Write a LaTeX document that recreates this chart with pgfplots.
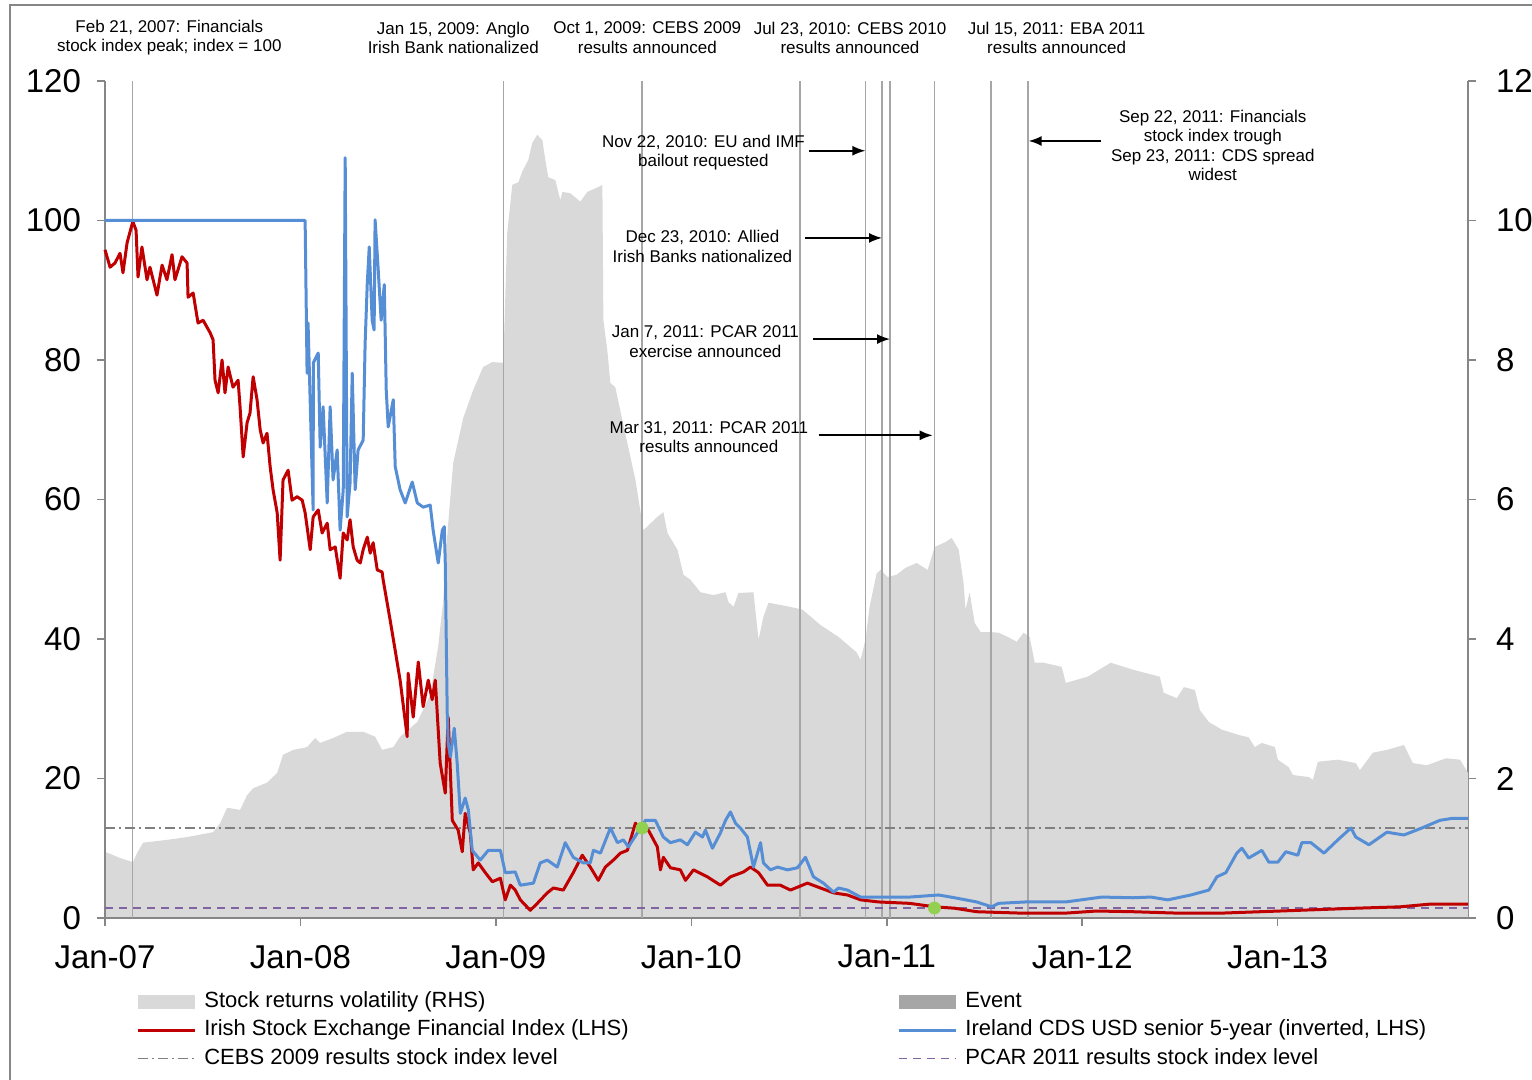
\documentclass[border=0pt]{standalone}
\usepackage{pgfplots}
\pgfplotsset{compat=1.18}
\usepackage{fontspec}
\setmainfont{Liberation Sans}
\usetikzlibrary{arrows.meta}
\definecolor{cred}{HTML}{C00000}
\definecolor{cblue}{HTML}{558ED5}
\definecolor{cfill}{HTML}{D9D9D9}
\definecolor{cevent}{HTML}{A6A6A6}
\definecolor{caxis}{HTML}{868686}
\definecolor{cpurple}{HTML}{8064A2}
\definecolor{cdash}{HTML}{7F7F7F}
\definecolor{cgreen}{HTML}{92D050}
\newcommand{\tickfont}{\fontsize{16.5}{19}\selectfont}
\newcommand{\annfont}{\fontsize{8.5}{9.8}\selectfont}
\newcommand{\legfont}{\fontsize{11}{13}\selectfont}
\pgfplotsset{
  lineleg/.style={legend image code/.code={\draw[##1] (0pt,0pt) -- (28.5pt,0pt);}},
  patchleg/.style={legend image code/.code={\fill[##1] (0pt,-3.5pt) rectangle (28.5pt,3.5pt);}},
  commonax/.style={scale only axis, width=681.5pt, height=418.5pt,
    xmin=0, xmax=6.974, at={(0pt,0pt)}, anchor=south west,
    tick align=outside, major tick length=4pt,
    tick style={caxis, line width=0.8pt},
    axis line style={caxis, line width=0.8pt},
    ticklabel style={font=\tickfont},
    /pgf/number format/assume math mode=true,
    legend cell align=left,
    legend style={draw=none, fill=none, inner sep=0pt, font=\legfont,
      row sep=3.75pt, /tikz/column sep=4pt,
      nodes={inner sep=0pt, text height=8pt, text depth=2.5pt},
      anchor=north west}},
}
\tikzset{annarrow/.style={-{Latex[length=6.5pt,width=5pt]}, line width=0.9pt}}
\begin{document}
\begin{tikzpicture}
\useasboundingbox (-52.5pt,-81pt) rectangle (713.5pt,459pt);
% ---------- right axis: volatility ----------
\begin{axis}[commonax, axis y line*=right, axis x line=none,
  ymin=0, ymax=12, ytick={0,2,...,12},
  yticklabel style={xshift=6.5pt},
  legend style={at={(0.0227,-0.0872)}}]
\addplot[fill=cfill, draw=none, patchleg] coordinates {
(0,0.95) (0.077,0.86) (0.143,0.80) (0.164,0.93) (0.195,1.08) (0.317,1.12)
(0.420,1.16) (0.553,1.23) (0.589,1.36) (0.625,1.58) (0.691,1.55) (0.727,1.76)
(0.758,1.86) (0.829,1.94) (0.881,2.08) (0.911,2.34) (0.963,2.41) (1.034,2.45)
(1.075,2.58) (1.101,2.51) (1.167,2.58) (1.239,2.67) (1.321,2.67) (1.382,2.60)
(1.418,2.41) (1.475,2.45) (1.510,2.60) (1.598,2.81) (1.664,3.20) (1.705,3.90)
(1.731,4.56) (1.741,5.10) (1.756,5.66) (1.782,6.53) (1.833,7.17) (1.884,7.57)
(1.935,7.90) (1.982,7.97) (2.038,7.96) (2.058,9.82) (2.084,10.51) (2.115,10.55)
(2.135,10.70) (2.166,10.87) (2.186,11.11) (2.212,11.23) (2.238,11.15) (2.253,10.87)
(2.268,10.62) (2.304,10.58) (2.330,10.29) (2.340,10.41) (2.381,10.39) (2.432,10.27)
(2.468,10.41) (2.524,10.48) (2.545,10.51) (2.550,8.57) (2.570,8.14) (2.586,7.67)
(2.611,7.61) (2.647,7.14) (2.714,6.28) (2.755,5.56) (2.826,5.75) (2.857,5.82)
(2.878,5.52) (2.929,5.28) (2.960,4.92) (2.995,4.85) (3.047,4.67) (3.113,4.63)
(3.175,4.67) (3.190,4.53) (3.216,4.46) (3.241,4.66) (3.318,4.67) (3.344,3.99)
(3.369,4.32) (3.395,4.52) (3.507,4.46) (3.569,4.42) (3.661,4.20) (3.753,4.03)
(3.845,3.81) (3.866,3.70) (3.891,3.99) (3.912,4.46) (3.948,4.94) (3.968,4.99)
(4.004,4.89) (4.050,4.92) (4.096,5.02) (4.153,5.09) (4.209,4.99) (4.245,5.32)
(4.301,5.39) (4.332,5.45) (4.368,5.28) (4.393,4.80) (4.403,4.42) (4.424,4.67)
(4.450,4.23) (4.480,4.10) (4.526,4.10) (4.572,4.09) (4.619,4.03) (4.665,3.96)
(4.700,4.09) (4.731,4.03) (4.757,3.66) (4.803,3.66) (4.895,3.60) (4.916,3.37)
(5.028,3.46) (5.146,3.66) (5.259,3.56) (5.397,3.46) (5.417,3.23) (5.484,3.15)
(5.520,3.31) (5.576,3.27) (5.602,2.98) (5.648,2.81) (5.714,2.70) (5.806,2.62)
(5.852,2.59) (5.883,2.45) (5.919,2.51) (5.986,2.45) (6.001,2.27) (6.057,2.16)
(6.078,2.05) (6.160,2.02) (6.180,1.98) (6.206,2.24) (6.308,2.27) (6.400,2.22)
(6.421,2.12) (6.487,2.37) (6.559,2.41) (6.646,2.48) (6.692,2.22) (6.764,2.19)
(6.861,2.29) (6.933,2.27) (6.974,2.08)} \closedcycle;
\addlegendentry{Stock returns volatility (RHS)}
\addlegendimage{cred, line width=1.5pt, lineleg}
\addlegendentry{Irish Stock Exchange Financial Index (LHS)}
\addlegendimage{cdash, line width=0.6pt, dash pattern=on 5pt off 2pt on 1pt off 2pt, lineleg}
\addlegendentry{CEBS 2009 results stock index level}
\end{axis}
% ---------- left axis ----------
\begin{axis}[commonax, axis y line*=left, axis x line*=bottom, clip=false,
  ymin=0, ymax=120, ytick={0,20,...,120},
  yticklabel style={xshift=-4.5pt},
  xtick={0,1,2,3,4,5,6},
  xticklabels={Jan-07,Jan-08,Jan-09,Jan-10,Jan-11,Jan-12,Jan-13},
  xticklabel style={yshift=-6pt},
  legend style={at={(0.5811,-0.0872)}}]
% event lines
\addplot[ycomb, cevent, line width=0.75pt, mark=none, forget plot] coordinates {
(0.140,120) (2.038,120) (2.748,120) (3.556,120) (3.890,120)
(3.975,120) (4.016,120) (4.244,120) (4.534,120) (4.723,120)};
% reference levels
\addplot[cdash, line width=0.6pt, dash pattern=on 5pt off 2pt on 1pt off 2pt, forget plot]
  coordinates {(0,12.9) (6.974,12.9)};
\addplot[cpurple, line width=0.6pt, dash pattern=on 4pt off 3pt, forget plot]
  coordinates {(0,1.43) (6.974,1.43)};
% Irish Stock Exchange Financial Index
\addplot[cred, line width=1.5pt, line join=round, forget plot] coordinates {
(0,95.8) (0.026,93.3) (0.051,93.9) (0.077,95.3) (0.092,92.5) (0.113,96.8) (0.138,99.4)
(0.143,99.8) (0.159,98.6) (0.169,91.9) (0.189,96.2) (0.215,91.5) (0.230,93.3) (0.266,89.3)
(0.292,93.6) (0.317,91.5) (0.343,95.1) (0.358,91.5) (0.394,94.8) (0.420,93.9) (0.425,89.0)
(0.451,89.6) (0.476,85.3) (0.502,85.7) (0.538,83.9) (0.553,82.9) (0.563,77.1) (0.579,75.3)
(0.599,80.0) (0.614,75.3) (0.630,79.0) (0.655,76.1) (0.681,77.1) (0.691,73.3) (0.707,66.1)
(0.727,71.0) (0.742,72.4) (0.758,77.6) (0.778,74.3) (0.794,70.0) (0.809,68.1) (0.829,69.5)
(0.845,64.7) (0.860,61.4) (0.881,58.1) (0.896,51.3) (0.911,62.8) (0.937,64.2) (0.957,59.9)
(0.983,60.4) (1.009,59.9) (1.024,58.1) (1.050,52.8) (1.065,57.5) (1.091,58.5) (1.111,55.2)
(1.137,56.6) (1.152,52.8) (1.178,53.2) (1.203,48.7) (1.219,55.2) (1.239,54.2) (1.254,57.1)
(1.270,53.2) (1.290,51.3) (1.306,50.9) (1.321,52.8) (1.342,54.6) (1.357,52.3) (1.372,53.8)
(1.393,49.9) (1.418,49.6) (1.423,48.5) (1.459,42.7) (1.510,34.1) (1.546,26.0) (1.551,35.1)
(1.577,28.8) (1.603,36.7) (1.628,30.3) (1.654,34.1) (1.674,31.3) (1.690,34.1) (1.715,22.2)
(1.741,17.9) (1.756,28.8) (1.777,14.0) (1.807,12.6) (1.828,9.5) (1.843,15.0) (1.869,12.2)
(1.884,6.9) (1.910,7.9) (1.946,6.5) (1.982,5.2) (2.023,5.7) (2.048,2.6) (2.074,4.7)
(2.099,4.0) (2.125,2.6) (2.176,1.1) (2.212,2.1) (2.263,3.6) (2.294,4.3) (2.345,4.0)
(2.396,6.5) (2.442,9.0) (2.483,7.3) (2.524,5.4) (2.560,7.3) (2.601,8.3) (2.637,9.3)
(2.673,9.7) (2.714,13.6) (2.739,12.6) (2.780,12.6) (2.826,10.2) (2.842,6.9) (2.857,8.7)
(2.893,7.2) (2.944,6.9) (2.970,5.4) (3.011,6.9) (3.082,5.9) (3.149,4.7) (3.200,5.9)
(3.267,6.6) (3.303,7.3) (3.344,6.5) (3.390,4.7) (3.456,4.7) (3.507,4.0) (3.594,5.0)
(3.661,4.3) (3.728,3.6) (3.799,3.3) (3.866,2.6) (3.958,2.3) (4.117,2.1) (4.245,1.6)
(4.347,1.4) (4.460,0.9) (4.685,0.7) (4.916,0.7) (5.074,1.0) (5.259,0.9) (5.484,0.7)
(5.714,0.7) (6.011,1.0) (6.400,1.4) (6.626,1.6) (6.784,2.0) (6.974,2.0)};
% Ireland CDS (inverted)
\addplot[cblue, line width=1.5pt, line join=round, forget plot] coordinates {
(0,100) (1.024,100) (1.034,78.1) (1.039,85.3) (1.065,58.5) (1.066,79.6) (1.091,81.0)
(1.101,67.5) (1.116,73.3) (1.137,59.5) (1.152,73.3) (1.167,62.8) (1.188,67.1) (1.203,55.6)
(1.219,61.4) (1.229,109.0) (1.239,57.5) (1.254,62.4) (1.265,78.1) (1.280,61.4) (1.295,67.1)
(1.321,68.5) (1.331,82.4) (1.342,91.0) (1.352,96.2) (1.367,85.7) (1.377,84.3) (1.382,100.1)
(1.398,92.9) (1.413,85.7) (1.429,90.8) (1.439,75.7) (1.449,70.4) (1.475,74.3) (1.485,64.7)
(1.510,61.4) (1.536,59.5) (1.572,62.5) (1.598,59.5) (1.628,58.9) (1.664,59.2) (1.679,55.6)
(1.705,50.9) (1.726,55.6) (1.736,56.1) (1.741,50.9) (1.751,29.4) (1.756,25.1) (1.767,23.1)
(1.787,27.2) (1.802,22.2) (1.818,15.0) (1.843,17.2) (1.859,15.5) (1.879,9.7) (1.920,8.3)
(1.961,9.7) (2.023,9.7) (2.048,6.5) (2.099,6.6) (2.125,4.7) (2.192,5.0) (2.227,7.9)
(2.263,8.3) (2.314,7.3) (2.355,10.8) (2.396,8.7) (2.447,7.9) (2.483,7.9) (2.499,9.7)
(2.535,9.3) (2.586,12.9) (2.622,10.8) (2.652,11.2) (2.678,10.2) (2.724,12.2) (2.765,14.0)
(2.816,14.0) (2.857,11.6) (2.893,10.8) (2.944,11.2) (2.980,10.5) (3.021,12.3) (3.057,11.6)
(3.072,12.6) (3.108,10.0) (3.149,12.2) (3.175,14.0) (3.200,15.2) (3.226,13.6) (3.251,12.9)
(3.287,11.6) (3.318,7.3) (3.354,10.8) (3.369,7.9) (3.405,6.9) (3.441,7.3) (3.492,6.9)
(3.543,7.2) (3.584,8.7) (3.625,5.9) (3.676,5.0) (3.728,3.7) (3.753,4.3) (3.799,4.0)
(3.866,3.0) (3.958,3.0) (4.117,3.0) (4.265,3.3) (4.347,2.9) (4.460,2.3) (4.537,1.6)
(4.572,2.1) (4.711,2.3) (4.916,2.3) (5.100,3.0) (5.259,2.9) (5.351,3.0) (5.438,2.6)
(5.556,3.3) (5.648,4.0) (5.689,5.9) (5.735,6.5) (5.791,9.3) (5.817,10.0) (5.852,8.6)
(5.919,9.7) (5.955,8.0) (6.001,8.0) (6.042,9.5) (6.103,9.0) (6.124,10.8) (6.170,10.8)
(6.237,9.3) (6.308,11.2) (6.375,12.9) (6.400,11.6) (6.467,10.5) (6.559,12.3) (6.646,11.9)
(6.738,12.9) (6.830,14.0) (6.897,14.3) (6.974,14.3)};
% result points
\addplot[only marks, mark=*, mark size=3pt, cgreen, forget plot]
  coordinates {(2.748,12.9) (4.244,1.43)};
% legend (right column)
\addlegendimage{fill=cevent, draw=none, patchleg}
\addlegendentry{Event}
\addlegendimage{cblue, line width=1.5pt, lineleg}
\addlegendentry{Ireland CDS USD senior 5-year (inverted, LHS)}
\addlegendimage{cpurple, line width=0.6pt, dash pattern=on 4pt off 3pt, lineleg}
\addlegendentry{PCAR 2011 results stock index level}
% annotations above the plot
\node[font=\annfont, align=center] at (axis cs:0.329,126.2) {Feb 21, 2007: Financials\\stock index peak; index = 100};
\node[font=\annfont, align=center] at (axis cs:1.782,126.2) {Jan 15, 2009: Anglo\\Irish Bank nationalized};
\node[font=\annfont, align=center] at (axis cs:2.775,126.2) {Oct 1, 2009: CEBS 2009\\results announced};
\node[font=\annfont, align=center] at (axis cs:3.812,126.2) {Jul 23, 2010: CEBS 2010\\results announced};
\node[font=\annfont, align=center] at (axis cs:4.869,126.2) {Jul 15, 2011: EBA 2011\\results announced};
% annotations inside
\node[font=\annfont, align=center] at (axis cs:3.062,109.75) {Nov 22, 2010: EU and IMF\\bailout requested};
\node[font=\annfont, align=center] at (axis cs:3.057,96.27) {Dec 23, 2010: Allied\\Irish Banks nationalized};
\node[font=\annfont, align=center] at (axis cs:3.072,82.65) {Jan 7, 2011: PCAR 2011\\exercise announced};
\node[font=\annfont, align=center] at (axis cs:3.090,68.96) {Mar 31, 2011: PCAR 2011\\results announced};
\node[font=\annfont, align=center] at (axis cs:5.668,110.75) {Sep 22, 2011: Financials\\stock index trough\\Sep 23, 2011: CDS spread\\widest};
\draw[annarrow] (axis cs:3.600,110.0) -- (axis cs:3.891,110.0);
\draw[annarrow] (axis cs:3.584,97.5) -- (axis cs:3.976,97.5);
\draw[annarrow] (axis cs:3.625,83.0) -- (axis cs:4.017,83.0);
\draw[annarrow] (axis cs:3.651,69.2) -- (axis cs:4.235,69.2);
\draw[annarrow] (axis cs:5.095,111.4) -- (axis cs:4.726,111.4);
\end{axis}
% outer frame
\draw[caxis, line width=0.6pt] (-47.5pt,-81pt) -- (-47.5pt,456.5pt) -- (713.5pt,456.5pt);
\end{tikzpicture}
\end{document}
